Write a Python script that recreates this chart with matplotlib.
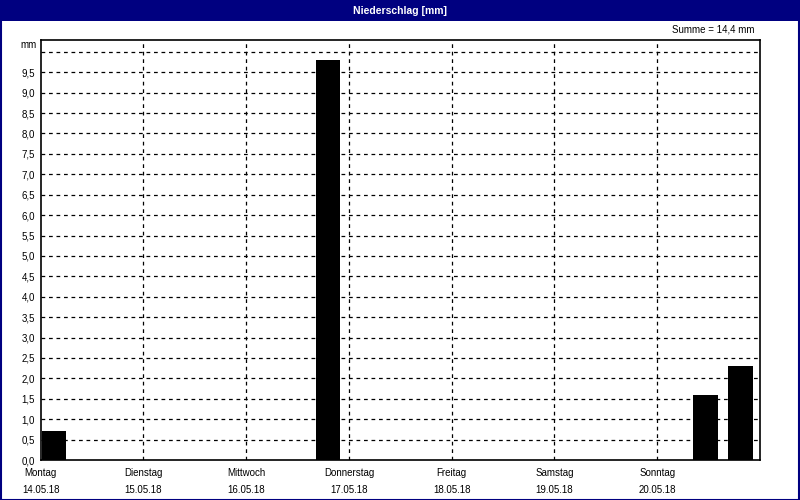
import matplotlib
matplotlib.use("Agg")
import matplotlib.pyplot as plt
from matplotlib.patches import Rectangle

# Data
day_names = ["Montag", "Dienstag", "Mittwoch", "Donnerstag", "Freitag", "Samstag", "Sonntag"]
day_dates = ["14.05.18", "15.05.18", "16.05.18", "17.05.18", "18.05.18", "19.05.18", "20.05.18"]
bar_pos_days = [0.13, 2.80, 6.47, 6.81]   # bar centres, in days since Monday 00:00
bar_values = [0.7, 9.8, 1.6, 2.3]         # mm
title = "Niederschlag [mm]"
summe_text = "Summe = 14,4 mm"
y_ticks = [i * 0.5 for i in range(20)]    # 0,0 .. 9,5 labelled
grid_y = [i * 0.5 for i in range(21)]     # incl. 10,0

navy = "#000080"
fs = 7
fam = ["Liberation Sans", "DejaVu Sans"]
plt.rcParams["font.family"] = fam

fig = plt.figure(figsize=(8, 5), dpi=100)
fig.patch.set_facecolor("white")

# Title bar and outer border
fig.patches.append(Rectangle((0, 1 - 21 / 500), 1, 21 / 500, transform=fig.transFigure,
                             facecolor=navy, edgecolor="none", zorder=0))
fig.patches.append(Rectangle((0.5 / 800, 0.5 / 500), 1 - 1.5 / 800, 1 - 1.5 / 500,
                             transform=fig.transFigure, facecolor="none",
                             edgecolor=navy, linewidth=1.5, zorder=5))
fig.text(0.5, 1 - 10.5 / 500, title, color="white", fontsize=7.5, fontweight="bold",
         ha="center", va="center")
fig.text(755 / 800, 1 - 30 / 500, summe_text, color="black", fontsize=fs,
         ha="right", va="center")

ax = fig.add_axes([40.6 / 800, 40 / 500, (760 - 40.6) / 800, 420 / 500])
ax.set_facecolor("white")
ax.bar(bar_pos_days, bar_values, width=0.235, color="black", zorder=3)

ax.set_xlim(0, 7.0)
ax.set_ylim(0, 10.29)

for gy in grid_y[1:]:
    ax.axhline(gy, color="black", linewidth=0.9, linestyle=(0, (3, 3)), zorder=1)
for gx in range(1, 7):
    ax.axvline(gx, color="black", linewidth=0.9, linestyle=(0, (3, 3)), zorder=1)

ax.set_yticks(y_ticks)
ax.set_yticklabels([f"{v:.1f}".replace(".", ",") for v in y_ticks], fontsize=fs)
ax.set_xticks(range(7))
ax.set_xticklabels([f"{n}\n{d}" for n, d in zip(day_names, day_dates)], fontsize=fs,
                   linespacing=1.85)
ax.tick_params(axis="both", length=0, pad=4)
ax.tick_params(axis="x", pad=6)
for s in ax.spines.values():
    s.set_color("black")
    s.set_linewidth(1.2)

fig.text(37 / 800, 1 - 45 / 500, "mm", fontsize=fs, ha="right", va="center")

fig.savefig("out.png", dpi=100, facecolor=fig.get_facecolor())
